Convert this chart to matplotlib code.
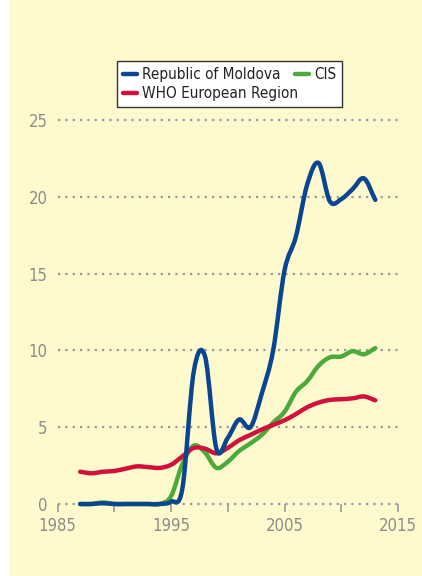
import matplotlib.pyplot as plt
from matplotlib.path import Path
from matplotlib.patches import PathPatch, Rectangle
from matplotlib.lines import Line2D

plt.rcParams['font.family'] = ['DejaVu Sans']
plt.rcParams['font.stretch'] = 'condensed'

years = list(range(1987, 2014))
moldova = [0.0, 0.0, 0.05, 0.0, 0.0, 0.0, 0.0, 0.0, 0.15, 1.0, 8.6, 9.6, 3.6, 4.3,
           5.5, 5.0, 7.2, 10.0, 15.2, 17.4, 20.8, 22.2, 19.7, 19.85, 20.5, 21.2, 19.8]
cis = [0.0, 0.0, 0.1, 0.0, 0.0, 0.0, 0.0, 0.0, 0.5, 2.6, 3.8, 3.35, 2.35, 2.75,
       3.45, 3.95, 4.5, 5.3, 6.0, 7.3, 8.0, 9.0, 9.55, 9.6, 9.95, 9.75, 10.15]
who = [2.1, 2.0, 2.1, 2.15, 2.3, 2.45, 2.4, 2.35, 2.55, 3.1, 3.65, 3.6, 3.3, 3.65,
       4.15, 4.5, 4.85, 5.15, 5.45, 5.85, 6.3, 6.6, 6.78, 6.82, 6.88, 7.0, 6.75]

labels = ['Republic of Moldova', 'WHO European Region', 'CIS']
colors = {'Republic of Moldova': '#0a4592', 'CIS': '#4caa3a', 'WHO European Region': '#d0113c'}

yellow = '#fffacd'
grey = '#9a9a9a'


def smooth_path(xs, ys):
    # catmull-rom through the yearly values, drawn as cubic bezier segments
    verts = [(xs[0], ys[0])]
    codes = [Path.MOVETO]
    n = len(xs)
    for i in range(n - 1):
        x0, y0 = xs[i], ys[i]
        x1, y1 = xs[i + 1], ys[i + 1]
        yp = ys[i - 1] if i > 0 else y0
        yn = ys[i + 2] if i + 2 < n else y1
        t0 = (y1 - yp) / (2 if i > 0 else 1)
        t1 = (yn - y0) / (2 if i + 2 < n else 1)
        verts += [(x0 + 1 / 3, y0 + t0 / 3), (x1 - 1 / 3, y1 - t1 / 3), (x1, y1)]
        codes += [Path.CURVE4] * 3
    return Path(verts, codes)


fig = plt.figure(figsize=(4.22, 5.76), dpi=100)
fig.add_artist(Rectangle((10 / 422, 0), 1, 1, transform=fig.transFigure,
                         facecolor=yellow, edgecolor='none', zorder=-10))

ax = fig.add_axes([57.5 / 422, 72 / 576, 340.5 / 422, 384 / 576])
ax.set_facecolor('none')
ax.set_xlim(1985, 2015)
ax.set_ylim(0, 25)

yticks = [0, 5, 10, 15, 20, 25]
ax.hlines(yticks, 1985, 2015, colors=grey, linewidth=1.6,
          linestyles=(0, (1, 2.3)), clip_on=False, zorder=1)

for name, vals in [('CIS', cis), ('WHO European Region', who), ('Republic of Moldova', moldova)]:
    p = PathPatch(smooth_path(years, vals), facecolor='none', edgecolor=colors[name],
                  linewidth=3.2, capstyle='round', joinstyle='round', clip_on=False, zorder=3)
    ax.add_patch(p)

for s in ax.spines.values():
    s.set_visible(False)

ax.set_yticks(yticks)
ax.set_yticklabels([str(t) for t in yticks])
ax.tick_params(axis='y', length=0, pad=7, labelsize=12, labelcolor='#8c8c8c')

ax.set_xticks([1985, 1995, 2005, 2015])
ax.set_xticks([1990, 2000, 2010], minor=True)
ax.tick_params(axis='x', which='both', length=6, width=1.2, color=grey, pad=3.5,
               labelsize=12, labelcolor='#8c8c8c')

handles = [Line2D([], [], color=colors[l], linewidth=3.2, solid_capstyle='round') for l in labels]
leg = fig.legend(handles, labels, loc='center', bbox_to_anchor=(0.545, 0.854), ncol=2,
                 fontsize=11, frameon=True, fancybox=False, edgecolor='#333333',
                 framealpha=1, borderpad=0.38, handlelength=0.9, handletextpad=0.35,
                 columnspacing=-0.2, labelspacing=0.28, borderaxespad=0)
leg.get_frame().set_linewidth(1.0)
for t in leg.get_texts():
    t.set_color('#222222')

plt.savefig('out.png', dpi=100)
